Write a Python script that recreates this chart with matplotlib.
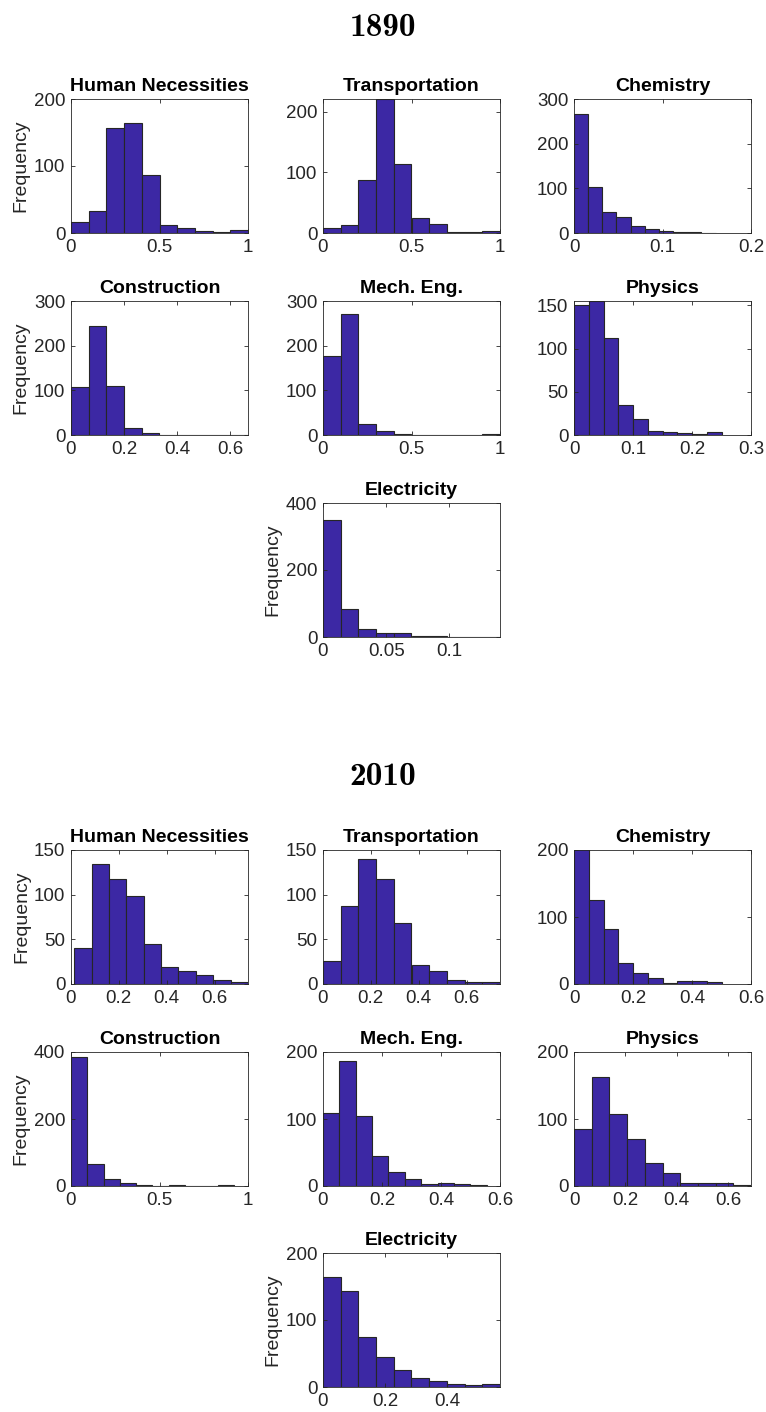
import matplotlib
matplotlib.use("Agg")
import matplotlib.pyplot as plt

plt.rcParams['font.family'] = ['Liberation Sans', 'DejaVu Sans']

# ---- 1890 ----
hn_1890_edges = [0, 0.1, 0.2, 0.3, 0.4, 0.5, 0.6, 0.7, 0.8, 0.9, 1.0]
hn_1890_counts = [17, 33, 156, 164, 87, 12, 7, 3, 1, 4]
tr_1890_edges = [0, 0.1, 0.2, 0.3, 0.4, 0.5, 0.6, 0.7, 0.8, 0.9, 1.0]
tr_1890_counts = [8, 14, 87, 221, 113, 25, 15, 2, 2, 4]
ch_1890_edges = [0, 0.016, 0.032, 0.048, 0.064, 0.08, 0.096, 0.112, 0.128, 0.144, 0.16]
ch_1890_counts = [267, 103, 48, 36, 15, 8, 5, 2, 2, 1]
co_1890_edges = [0, 0.0667, 0.1333, 0.2, 0.2667, 0.3333, 0.4, 0.4667, 0.5333, 0.6, 0.6667]
co_1890_counts = [108, 244, 110, 16, 5, 1, 1, 1, 1, 1]
me_1890_edges = [0, 0.1, 0.2, 0.3, 0.4, 0.5, 0.6, 0.7, 0.8, 0.9, 1.0]
me_1890_counts = [176, 271, 25, 8, 3, 1, 1, 1, 1, 2]
ph_1890_edges = [0, 0.025, 0.05, 0.075, 0.1, 0.125, 0.15, 0.175, 0.2, 0.225, 0.25]
ph_1890_counts = [150, 155, 112, 35, 19, 5, 3, 2, 1, 3]
el_1890_edges = [0, 0.014, 0.028, 0.042, 0.056, 0.07, 0.084, 0.098, 0.112, 0.126, 0.14]
el_1890_counts = [350, 85, 23, 12, 13, 4, 2, 1, 1, 1]

# ---- 2010 ----
hn_2010_edges = [0.013, 0.086, 0.158, 0.231, 0.304, 0.377, 0.449, 0.522, 0.595, 0.668, 0.74]
hn_2010_counts = [40, 134, 118, 98, 45, 19, 14, 10, 4, 2]
tr_2010_edges = [0, 0.074, 0.148, 0.222, 0.296, 0.37, 0.444, 0.518, 0.592, 0.666, 0.74]
tr_2010_counts = [26, 87, 140, 117, 68, 21, 15, 4, 2, 2]
ch_2010_edges = [0, 0.05, 0.1, 0.15, 0.2, 0.25, 0.3, 0.35, 0.4, 0.45, 0.5]
ch_2010_counts = [201, 126, 82, 32, 16, 9, 2, 5, 4, 3]
co_2010_edges = [0, 0.092, 0.184, 0.276, 0.368, 0.46, 0.552, 0.644, 0.736, 0.828, 0.92]
co_2010_counts = [386, 66, 22, 8, 4, 1, 2, 1, 1, 2]
me_2010_edges = [0, 0.0555, 0.111, 0.1665, 0.222, 0.2775, 0.333, 0.3885, 0.444, 0.4995, 0.555]
me_2010_counts = [109, 186, 104, 45, 21, 11, 3, 4, 3, 1]
ph_2010_edges = [0, 0.069, 0.138, 0.207, 0.276, 0.345, 0.414, 0.483, 0.552, 0.621, 0.69]
ph_2010_counts = [85, 162, 108, 70, 35, 19, 4, 4, 4, 1]
el_2010_edges = [0, 0.057, 0.114, 0.171, 0.228, 0.285, 0.342, 0.399, 0.456, 0.513, 0.57]
el_2010_counts = [164, 143, 75, 45, 26, 14, 9, 5, 3, 4]

titles = ["Human Necessities", "Transportation", "Chemistry",
          "Construction", "Mech. Eng.", "Physics", "Electricity"]

# (edges, counts, xlim, ylim, xticks, yticks)
panels_1890 = [
    (hn_1890_edges, hn_1890_counts, 1.0, 200, [0, 0.5, 1], [0, 100, 200]),
    (tr_1890_edges, tr_1890_counts, 1.0, 221, [0, 0.5, 1], [0, 100, 200]),
    (ch_1890_edges, ch_1890_counts, 0.2, 300, [0, 0.1, 0.2], [0, 100, 200, 300]),
    (co_1890_edges, co_1890_counts, 0.6667, 300, [0, 0.2, 0.4, 0.6], [0, 100, 200, 300]),
    (me_1890_edges, me_1890_counts, 1.0, 300, [0, 0.5, 1], [0, 100, 200, 300]),
    (ph_1890_edges, ph_1890_counts, 0.3, 155, [0, 0.1, 0.2, 0.3], [0, 50, 100, 150]),
    (el_1890_edges, el_1890_counts, 0.14, 400, [0, 0.05, 0.1], [0, 200, 400]),
]
panels_2010 = [
    (hn_2010_edges, hn_2010_counts, 0.74, 150, [0, 0.2, 0.4, 0.6], [0, 50, 100, 150]),
    (tr_2010_edges, tr_2010_counts, 0.74, 150, [0, 0.2, 0.4, 0.6], [0, 50, 100, 150]),
    (ch_2010_edges, ch_2010_counts, 0.6, 200, [0, 0.2, 0.4, 0.6], [0, 100, 200]),
    (co_2010_edges, co_2010_counts, 1.0, 400, [0, 0.5, 1], [0, 200, 400]),
    (me_2010_edges, me_2010_counts, 0.6, 200, [0, 0.2, 0.4, 0.6], [0, 100, 200]),
    (ph_2010_edges, ph_2010_counts, 0.69, 200, [0, 0.2, 0.4, 0.6], [0, 100, 200]),
    (el_2010_edges, el_2010_counts, 0.57, 200, [0, 0.2, 0.4], [0, 100, 200]),
]

W, H = 766, 1412
bar_color = '#3c28a4'
dark = '#262626'

fig = plt.figure(figsize=(W / 100, H / 100), dpi=100)

col_left = [71, 323, 574]
ax_w, ax_h = 177, 134


def tick_fmt(v):
    return '%g' % v


def draw_block(panels, row_tops, year, year_y):
    fig.text(383 / W, 1 - year_y / H, year, ha='center', va='center',
             fontsize=24, fontfamily='cmb10')
    pos = [(0, 0), (0, 1), (0, 2), (1, 0), (1, 1), (1, 2), (2, 1)]
    for k, (edges, counts, xmax, ymax, xt, yt) in enumerate(panels):
        r, c = pos[k]
        top = row_tops[r]
        ax = fig.add_axes([col_left[c] / W, 1 - (top + ax_h) / H, ax_w / W, ax_h / H])
        ax.hist(edges[:-1], bins=edges, weights=counts, color=bar_color,
                edgecolor=dark, linewidth=0.8)
        ax.set_xlim(0, xmax)
        ax.set_ylim(0, ymax)
        ax.set_xticks(xt)
        ax.set_yticks(yt)
        ax.set_xticklabels([tick_fmt(v) for v in xt])
        ax.set_yticklabels([tick_fmt(v) for v in yt])
        ax.tick_params(direction='in', top=True, right=True, length=3, width=0.6,
                       colors=dark, labelsize=13.5, pad=4)
        for sp in ax.spines.values():
            sp.set_linewidth(0.6)
            sp.set_color(dark)
        ax.set_title(titles[k], fontsize=14, fontweight='bold', pad=6)
        if c == 0 or k == 6:
            ax.set_ylabel("Frequency", fontsize=14, color=dark, labelpad=3)


draw_block(panels_1890, [99, 301, 503], "1890", 28)
draw_block(panels_2010, [850, 1052, 1253], "2010", 776)

fig.savefig("out.png", dpi=100)
